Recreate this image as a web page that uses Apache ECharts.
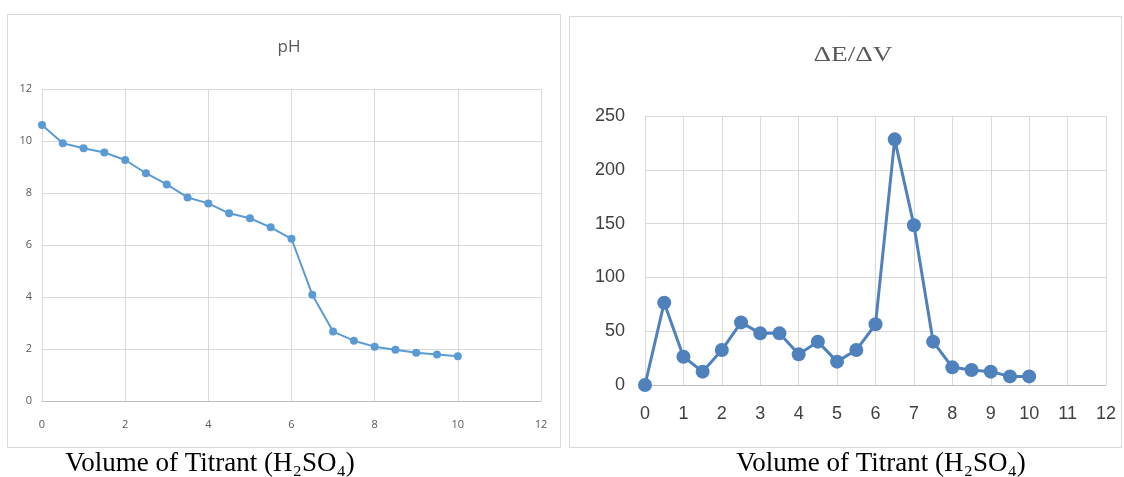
<!DOCTYPE html>
<html><head><meta charset="utf-8">
<script src="https://cdn.jsdelivr.net/npm/echarts@6/dist/echarts.min.js"></script>
<style>html,body{margin:0;padding:0;background:#fff}#c{width:1124px;height:477px}</style>
</head><body><div id="c"></div>
<script>
const volume = [0,0.5,1,1.5,2,2.5,3,3.5,4,4.5,5,5.5,6,6.5,7,7.5,8,8.5,9,9.5,10];
const pH = [10.62,9.91,9.72,9.56,9.27,8.76,8.33,7.83,7.60,7.22,7.03,6.68,6.24,4.09,2.67,2.32,2.09,1.97,1.86,1.79,1.72];
const dEdV = [0,76.5,26.3,12.4,32.5,58.2,48,48,28.5,40.3,21.7,32.5,56.4,228.3,148.4,40.3,16.4,13.9,12.4,8,8];
const leftTitle = 'pH';
const rightTitle = 'ΔE/ΔV';
const xTitle = 'Volume of Titrant (H₂SO₄)';

const chart = echarts.init(document.getElementById('c'));
const grid = {color:'#D9D9D9', width:1};
chart.setOption({
  animation:false,
  grid:[
    {left:42,top:89,width:499,height:312},
    {left:645,top:116,width:461,height:269}
  ],
  xAxis:[
    {type:'value',gridIndex:0,min:0,max:12,interval:2,
     axisLine:{lineStyle:{color:'#BFBFBF'}},axisTick:{show:false},
     splitLine:{lineStyle:grid},
     axisLabel:{margin:18,fontFamily:'Open Sans',fontSize:11,color:'#595959'}},
    {type:'value',gridIndex:1,min:0,max:12,interval:1,
     axisLine:{lineStyle:{color:'#BFBFBF'}},axisTick:{show:false},
     splitLine:{lineStyle:grid},
     axisLabel:{margin:20,fontFamily:'Liberation Sans',fontSize:18,color:'#404040'}}
  ],
  yAxis:[
    {type:'value',gridIndex:0,min:0,max:12,interval:2,
     axisLine:{show:true,lineStyle:{color:'#D9D9D9'}},axisTick:{show:false},
     splitLine:{lineStyle:grid},
     axisLabel:{margin:10,fontFamily:'Open Sans',fontSize:11,color:'#595959'}},
    {type:'value',gridIndex:1,min:0,max:250,interval:50,
     axisLine:{show:true,lineStyle:{color:'#D9D9D9'}},axisTick:{show:false},
     splitLine:{lineStyle:grid},
     axisLabel:{margin:20,fontFamily:'Liberation Sans',fontSize:18,color:'#404040'}}
  ],
  series:[
    {type:'line',xAxisIndex:0,yAxisIndex:0,data:volume.map((v,i)=>[v,pH[i]]),
     symbol:'circle',symbolSize:8,lineStyle:{color:'#5B9BD5',width:2},
     itemStyle:{color:'#5B9BD5'}},
    {type:'line',xAxisIndex:1,yAxisIndex:1,data:volume.map((v,i)=>[v,dEdV[i]]),
     symbol:'circle',symbolSize:14,lineStyle:{color:'#4F81BD',width:3},
     itemStyle:{color:'#4F81BD'}}
  ],
  graphic:[
    {type:'rect',shape:{x:7.5,y:14.5,width:553,height:433},style:{fill:null,stroke:'#D9D9D9',lineWidth:1},silent:true},
    {type:'rect',shape:{x:569.5,y:16.5,width:552,height:431},style:{fill:null,stroke:'#D9D9D9',lineWidth:1},silent:true},
    {type:'text',x:289,y:47,style:{text:leftTitle,font:'17px "Open Sans"',fill:'#595959',textAlign:'center',textVerticalAlign:'middle'}},
    {type:'text',x:853,y:55,scaleX:1.3,style:{text:rightTitle,font:'21px "Liberation Serif"',fill:'#595959',textAlign:'center',textVerticalAlign:'middle'}},
    {type:'text',x:210,y:464,style:{text:xTitle,font:'27px "Liberation Serif"',fill:'#000',textAlign:'center',textVerticalAlign:'middle'}},
    {type:'text',x:881,y:464,style:{text:xTitle,font:'27px "Liberation Serif"',fill:'#000',textAlign:'center',textVerticalAlign:'middle'}}
  ]
});
</script></body></html>
